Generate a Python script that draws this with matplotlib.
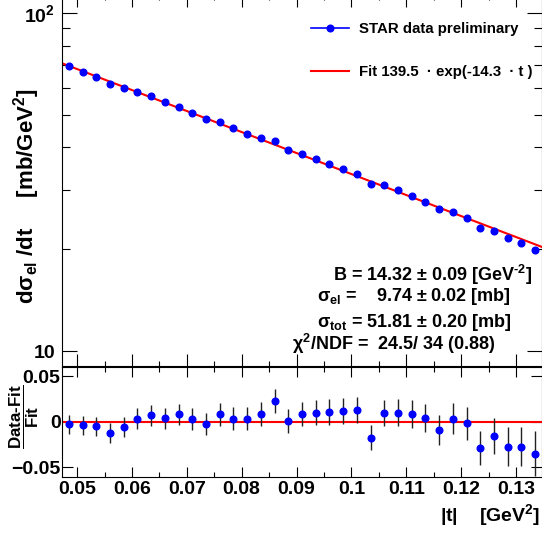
import matplotlib
matplotlib.use("Agg")
import matplotlib.pyplot as plt
import numpy as np
from matplotlib.lines import Line2D
from matplotlib.ticker import FixedFormatter, FixedLocator, MultipleLocator, NullFormatter

# |t| bin centres [GeV^2]
t = [0.0485, 0.0510, 0.0535, 0.0560, 0.0585, 0.0610, 0.0635, 0.0660, 0.0685,
     0.0710, 0.0735, 0.0760, 0.0785, 0.0810, 0.0835, 0.0860, 0.0885, 0.0910,
     0.0935, 0.0960, 0.0985, 0.1010, 0.1035, 0.1060, 0.1085, 0.1110, 0.1135,
     0.1160, 0.1185, 0.1210, 0.1235, 0.1260, 0.1285, 0.1310, 0.1335]

# d sigma_el / dt [mb/GeV^2]
dsdt = [69.52, 67.03, 64.59, 61.83, 60.10, 58.50, 56.67, 54.50, 52.80,
        50.67, 48.62, 47.43, 45.55, 43.95, 42.61, 41.72, 39.38, 38.29,
        36.99, 35.72, 34.50, 33.34, 31.19, 30.94, 29.85, 28.76, 27.63,
        26.31, 25.70, 24.68, 23.16, 22.66, 21.60, 20.84, 19.95]

# (data - fit) / fit and its uncertainty
resid = [-0.0029, -0.0036, -0.0050, -0.0127, -0.0054, 0.0033, 0.0073, 0.0040,
         0.0081, 0.0026, -0.0029, 0.0081, 0.0033, 0.0033, 0.0081, 0.0230,
         0.0008, 0.0084, 0.0098, 0.0106, 0.0117, 0.0131, -0.0175, 0.0098,
         0.0098, 0.0084, 0.0040, -0.0091, 0.0033, -0.0018, -0.0290, -0.0153,
         -0.0273, -0.0273, -0.0350]
resid_err = [0.0102, 0.0104, 0.0105, 0.0110, 0.0108, 0.0113, 0.0115, 0.0115,
             0.0118, 0.0120, 0.0120, 0.0125, 0.0128, 0.0128, 0.0130, 0.0130,
             0.0135, 0.0135, 0.0135, 0.0140, 0.0140, 0.0142, 0.0140, 0.0145,
             0.0148, 0.0150, 0.0155, 0.0165, 0.0170, 0.0180, 0.0186, 0.0195,
             0.0210, 0.0217, 0.0246]

fit_norm = 139.5
fit_slope = 14.3

stats_lines = [
    "B = 14.32 ± 0.09 [GeV$^{\\text{-}2}$]",
    "σ$_{\\rm el}$ =    9.74 ± 0.02 [mb]",
    "σ$_{\\rm tot}$ = 51.81 ± 0.20 [mb]",
    "χ$^{2}$/NDF =  24.5/ 34 (0.88)",
]

plt.rcParams["font.family"] = ["Liberation Sans", "DejaVu Sans"]
plt.rcParams["font.weight"] = "bold"
plt.rcParams["mathtext.fontset"] = "custom"
plt.rcParams["mathtext.rm"] = "Liberation Sans:bold"
plt.rcParams["mathtext.it"] = "Liberation Sans:bold"
plt.rcParams["mathtext.bf"] = "Liberation Sans:bold"

W, H = 542, 533
fig = plt.figure(figsize=(W / 100, H / 100), dpi=100)


def px_box(x0, y0, x1, y1):
    return [x0 / W, 1 - y1 / H, (x1 - x0) / W, (y1 - y0) / H]


xlim = (0.04725, 0.13475)
ax1 = fig.add_axes(px_box(62, -5, 542, 366))
ax2 = fig.add_axes(px_box(62, 367, 542, 476.5))

tt = np.linspace(xlim[0], xlim[1], 300)

# top panel
ax1.set_yscale("log")
fit_line, = ax1.plot(tt, fit_norm * np.exp(-fit_slope * tt), color="red", lw=1.5, zorder=2)
ax1.plot(t, dsdt, "o", color="blue", ms=4.8, zorder=3)
ax1.set_xlim(*xlim)
ax1.set_ylim(9.03, 113.0)

ax1.yaxis.set_major_locator(FixedLocator([10, 100]))
ax1.yaxis.set_major_formatter(FixedFormatter(["10", "10$^{2}$"]))
ax1.yaxis.set_minor_locator(FixedLocator([20, 30, 40, 50, 60, 70, 80, 90]))
ax1.yaxis.set_minor_formatter(NullFormatter())
ax1.xaxis.set_major_locator(MultipleLocator(0.01))
ax1.xaxis.set_minor_locator(MultipleLocator(0.005))
ax1.tick_params(axis="x", which="both", direction="in", top=True, bottom=True, labelbottom=False)
ax1.tick_params(axis="x", which="major", length=8.5, width=0.8)
ax1.tick_params(axis="x", which="minor", length=3.6, width=0.8)
ax1.tick_params(axis="y", which="both", direction="in", left=True, right=True, labelsize=14, pad=5)
ax1.tick_params(axis="y", which="major", length=11, width=0.8)
ax1.tick_params(axis="y", which="minor", length=5.5, width=0.8)

star_handle = Line2D([], [], color="blue", marker="o", ms=4.8, lw=1.2)
ax1.legend([star_handle, fit_line],
           ["STAR data preliminary", "Fit 139.5  · exp(-14.3  · t )"],
           loc="upper left", bbox_to_anchor=(311 / W, 1 - 22 / H),
           bbox_transform=fig.transFigure, frameon=False, borderpad=0,
           borderaxespad=0, handlelength=2.55, handletextpad=0.65,
           labelspacing=1.95, prop={"size": 10.8, "weight": "bold"})

# bottom panel
ax2.axhline(0, color="red", lw=1.5, zorder=2)
ax2.errorbar(t, resid, yerr=resid_err, fmt="o", color="blue", ms=4.8,
             ecolor="#222222", elinewidth=1.0, capsize=0, zorder=3)
ax2.set_xlim(*xlim)
ax2.set_ylim(-0.06, 0.06)
ax2.yaxis.set_major_locator(FixedLocator([-0.05, 0, 0.05]))
ax2.yaxis.set_major_formatter(FixedFormatter(["\u22120.05", "0", "0.05"]))
ax2.xaxis.set_minor_locator(MultipleLocator(0.005))
ax2.set_xticks([0.05, 0.06, 0.07, 0.08, 0.09, 0.10, 0.11, 0.12, 0.13])
ax2.set_xticklabels(["0.05", "0.06", "0.07", "0.08", "0.09", "0.1", "0.11", "0.12", "0.13"])
ax2.tick_params(axis="x", which="both", direction="in", top=True, bottom=True, labelsize=14, pad=3)
ax2.tick_params(axis="x", which="major", length=7.2, width=0.8)
ax2.tick_params(axis="x", which="minor", length=3.6, width=0.8)
ax2.tick_params(axis="y", which="major", direction="in", left=True, right=True,
                length=8, width=0.8, labelsize=14, pad=1)

for ax in (ax1, ax2):
    for s in ax.spines.values():
        s.set_linewidth(0.8)

# axis titles
fig.text(27 / W, 1 - 196 / H, "dσ$_{\\rm el}$ /dt     [mb/GeV$^{2}$]", rotation=90,
         ha="center", va="center", fontsize=16)
fig.text(24 / W, 1 - 417 / H, r"$\dfrac{\mathrm{Data\text{-}Fit}}{\mathrm{Fit}}$", rotation=90,
         ha="center", va="center", fontsize=12.2)
fig.text(540 / W, 1 - 515 / H, "|t|    [GeV$^{2}$]", ha="right", va="center", fontsize=14)

# fit results
stats_x = [333, 317, 317, 292]
stats_y = [280.7, 300.7, 327, 350]
for s, x, y in zip(stats_lines, stats_x, stats_y):
    fig.text(x / W, 1 - y / H, s, ha="left", va="baseline", fontsize=13.0)

fig.savefig("out.png", dpi=100)
